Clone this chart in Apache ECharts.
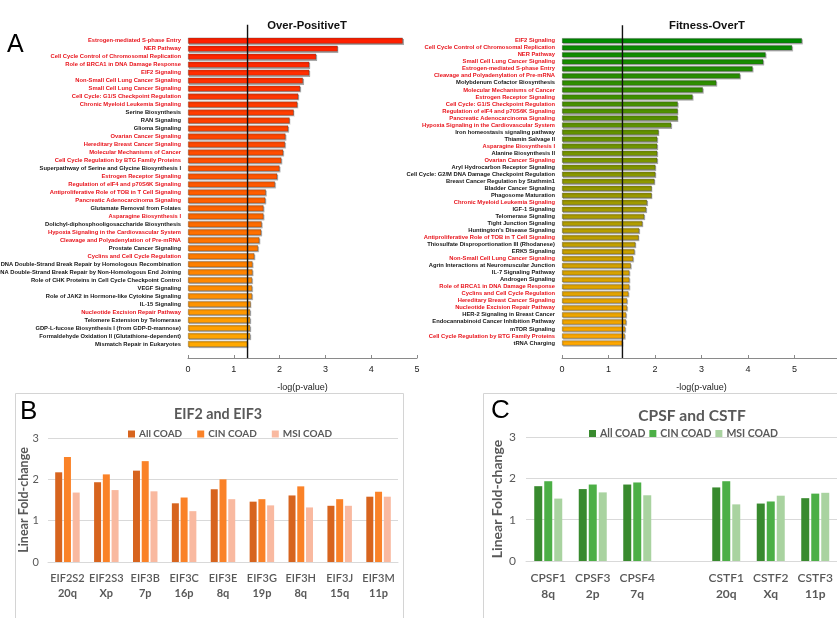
<!DOCTYPE html>
<html><head><meta charset="utf-8">
<script src="https://cdn.jsdelivr.net/npm/echarts@6/dist/echarts.min.js"></script>
<style>html,body{margin:0;padding:0;background:#fff}#c{width:837px;height:618px}</style>
</head><body><div id="c"></div>
<script>
// ---------- Panel A, left: Over-PositiveT ----------
const overPosLabels = [
  'Estrogen-mediated S-phase Entry','NER Pathway','Cell Cycle Control of Chromosomal Replication',
  'Role of BRCA1 in DNA Damage Response','EIF2 Signaling','Non-Small Cell Lung Cancer Signaling',
  'Small Cell Lung Cancer Signaling','Cell Cycle: G1/S Checkpoint Regulation','Chronic Myeloid Leukemia Signaling',
  'Serine Biosynthesis','RAN Signaling','Glioma Signaling','Ovarian Cancer Signaling',
  'Hereditary Breast Cancer Signaling','Molecular Mechanisms of Cancer','Cell Cycle Regulation by BTG Family Proteins',
  'Superpathway of Serine and Glycine Biosynthesis I','Estrogen Receptor Signaling','Regulation of eIF4 and p70S6K Signaling',
  'Antiproliferative Role of TOB in T Cell Signaling','Pancreatic Adenocarcinoma Signaling','Glutamate Removal from Folates',
  'Asparagine Biosynthesis I','Dolichyl-diphosphooligosaccharide Biosynthesis','Hypoxia Signaling in the Cardiovascular System',
  'Cleavage and Polyadenylation of Pre-mRNA','Prostate Cancer Signaling','Cyclins and Cell Cycle Regulation',
  'DNA Double-Strand Break Repair by Homologous Recombination','DNA Double-Strand Break Repair by Non-Homologous End Joining',
  'Role of CHK Proteins in Cell Cycle Checkpoint Control','VEGF Signaling','Role of JAK2 in Hormone-like Cytokine Signaling',
  'IL-15 Signaling','Nucleotide Excision Repair Pathway','Telomere Extension by Telomerase',
  'GDP-L-fucose Biosynthesis I (from GDP-D-mannose)','Formaldehyde Oxidation II (Glutathione-dependent)','Mismatch Repair in Eukaryotes'
];
const overPosValues = [4.69,3.27,2.80,2.65,2.65,2.51,2.45,2.41,2.39,2.31,2.22,2.19,2.13,2.12,2.08,2.04,2.00,1.95,1.90,
  1.70,1.69,1.65,1.65,1.61,1.60,1.56,1.53,1.45,1.41,1.41,1.40,1.40,1.40,1.37,1.36,1.36,1.36,1.36,1.30];
const overPosRed = [1,1,1,1,1,1,1,1,1,0,0,0,1,1,1,1,0,1,1,1,1,0,1,0,1,1,0,1,0,0,0,0,0,0,1,0,0,0,0];

// ---------- Panel A, right: Fitness-OverT ----------
const fitLabels = [
  'EIF2 Signaling','Cell Cycle Control of Chromosomal Replication','NER Pathway','Small Cell Lung Cancer Signaling',
  'Estrogen-mediated S-phase Entry','Cleavage and Polyadenylation of Pre-mRNA','Molybdenum Cofactor Biosynthesis',
  'Molecular Mechanisms of Cancer','Estrogen Receptor Signaling','Cell Cycle: G1/S Checkpoint Regulation',
  'Regulation of eIF4 and p70S6K Signaling','Pancreatic Adenocarcinoma Signaling','Hypoxia Signaling in the Cardiovascular System',
  'Iron homeostasis signaling pathway','Thiamin Salvage II','Asparagine Biosynthesis I','Alanine Biosynthesis II',
  'Ovarian Cancer Signaling','Aryl Hydrocarbon Receptor Signaling','Cell Cycle: G2/M DNA Damage Checkpoint Regulation',
  'Breast Cancer Regulation by Stathmin1','Bladder Cancer Signaling','Phagosome Maturation','Chronic Myeloid Leukemia Signaling',
  'IGF-1 Signaling','Telomerase Signaling','Tight Junction Signaling',"Huntington's Disease Signaling",
  'Antiproliferative Role of TOB in T Cell Signaling','Thiosulfate Disproportionation III (Rhodanese)','ERK5 Signaling',
  'Non-Small Cell Lung Cancer Signaling','Agrin Interactions at Neuromuscular Junction','IL-7 Signaling Pathway',
  'Androgen Signaling','Role of BRCA1 in DNA Damage Response','Cyclins and Cell Cycle Regulation',
  'Hereditary Breast Cancer Signaling','Nucleotide Excision Repair Pathway','HER-2 Signaling in Breast Cancer',
  'Endocannabinoid Cancer Inhibition Pathway','mTOR Signaling','Cell Cycle Regulation by BTG Family Proteins','tRNA Charging'
];
const fitValues = [5.16,4.95,4.38,4.33,4.10,3.83,3.32,3.03,2.81,2.49,2.49,2.49,2.35,2.08,2.05,2.05,2.05,2.05,2.01,2.01,1.99,
  1.93,1.93,1.83,1.81,1.77,1.73,1.66,1.65,1.58,1.56,1.53,1.48,1.45,1.45,1.45,1.43,1.40,1.40,1.38,1.38,1.36,1.35,1.30];
const fitRed = [1,1,1,1,1,1,0,1,1,1,1,1,1,0,0,1,0,1,0,0,0,0,0,1,0,0,0,0,1,0,0,1,0,0,0,1,1,1,1,0,0,0,1,0];

const threshold = 1.3;
const pTicks = [0,1,2,3,4,5];

// ---------- Panel B ----------
const eifGenes = ['EIF2S2','EIF2S3','EIF3B','EIF3C','EIF3E','EIF3G','EIF3H','EIF3J','EIF3M'];
const eifChrom = ['20q','Xp','7p','16p','8q','19p','8q','15q','11p'];
const eifAll = [2.17,1.93,2.21,1.42,1.76,1.46,1.61,1.36,1.58];
const eifCIN = [2.54,2.12,2.44,1.56,2.00,1.52,1.83,1.52,1.70];
const eifMSI = [1.68,1.74,1.71,1.23,1.52,1.37,1.32,1.36,1.58];

// ---------- Panel C ----------
const cpsfGenes = ['CPSF1','CPSF3','CPSF4','','CSTF1','CSTF2','CSTF3'];
const cpsfChrom = ['8q','2p','7q','','20q','Xq','11p'];
const cpsfAll = [1.81,1.74,1.85,null,1.78,1.39,1.52];
const cpsfCIN = [1.93,1.85,1.90,null,1.93,1.44,1.63];
const cpsfMSI = [1.51,1.66,1.59,null,1.37,1.58,1.65];

const seriesNames = ['All COAD','CIN COAD','MSI COAD'];
const fcTicks = [0,1,2,3];

// ---------- helpers ----------
function lerp(a,b,t){return a+(b-a)*t;}
function gradColor(stops, t){
  for(let i=0;i<stops.length-1;i++){
    const [p0,c0]=stops[i],[p1,c1]=stops[i+1];
    if(t<=p1){const u=(t-p0)/(p1-p0);
      return 'rgb('+c0.map((v,k)=>Math.round(lerp(v,c1[k],u))).join(',')+')';}
  }
  return 'rgb('+stops[stops.length-1][1].join(',')+')';
}
const redStops=[[0,[255,32,0]],[0.5,[255,92,0]],[1,[255,168,0]]];
const greenStops=[[0,[0,140,0]],[0.25,[85,145,0]],[0.5,[150,152,0]],[0.75,[212,162,0]],[1,[255,168,0]]];

const FONT='"Liberation Sans", Arial, sans-serif';
const CAL='Lato, "Open Sans", sans-serif';

function pathwayY(idx, labels, red){
  return {type:'category', gridIndex:idx, data:labels, inverse:true,
    axisLine:{show:false}, axisTick:{show:false},
    axisLabel:{interval:0, margin:7, fontFamily:FONT,
      formatter:(v,i)=>'{'+(red[i]?'r':'k')+'|'+v+'}',
      rich:{r:{color:'#E8141C',fontSize:5.8,fontWeight:'bold',fontFamily:FONT},
            k:{color:'#151515',fontSize:5.8,fontWeight:'bold',fontFamily:FONT}}}};
}
function pathwayX(idx, max, off){
  return {type:'value', gridIndex:idx, min:0, max:max, interval:1, offset:off,
    splitLine:{show:false},
    axisLine:{show:true, lineStyle:{color:'#8a8a8a'}},
    axisTick:{show:true, inside:true, length:3, lineStyle:{color:'#8a8a8a'}},
    axisLabel:{color:'#222', fontSize:9, fontFamily:FONT, margin:7,
      formatter:v=>pTicks.indexOf(v)>=0?String(v):''},
    name:'-log(p-value)', nameLocation:'middle', nameGap:25, nameMoveOverlap:false,
    nameTextStyle:{color:'#222', fontSize:9, fontFamily:FONT}};
}
function pathwayBars(idx, values, stops, bw){
  const n=values.length;
  return {type:'bar', xAxisIndex:idx, yAxisIndex:idx, data:values, barWidth:bw,
    itemStyle:{color:p=>gradColor(stops,p.dataIndex/(n-1)), borderColor:'rgba(50,50,50,0.55)', borderWidth:0.6,
      shadowColor:'rgba(0,0,0,0.28)', shadowOffsetX:1, shadowOffsetY:1.2, shadowBlur:0.5}};
}
function threshLine(idx, up, down){
  return {type:'custom', xAxisIndex:idx, yAxisIndex:idx, data:[[threshold,0]], z:10, silent:true,
    renderItem:(params,api)=>{
      const x=api.coord([api.value(0),0])[0]; const cs=params.coordSys;
      return {type:'line', shape:{x1:x,y1:cs.y-up,x2:x,y2:cs.y+cs.height+down},
        style:{stroke:'#111',lineWidth:1.4}};
    }};
}
function fcX(idx, genes, chrom, fs){
  return {type:'category', gridIndex:idx, data:genes,
    axisLine:{show:true, lineStyle:{color:'#D9D9D9'}}, axisTick:{show:false},
    axisLabel:{interval:0, margin:9, formatter:(v,i)=>genes[i]?'{a|'+v+'}\n{b|'+chrom[i]+'}':'',
      rich:{a:{color:'#595959',fontSize:fs,fontFamily:CAL,fontWeight:600,lineHeight:fs+4},
            b:{color:'#595959',fontSize:fs,fontFamily:CAL,fontWeight:'bold',lineHeight:fs+4}}}};
}
function fcY(idx, fs, nfs, gap, margin){
  return {type:'value', gridIndex:idx, min:0, max:3, interval:1,
    splitLine:{lineStyle:{color:'#D9D9D9'}}, axisLine:{show:false}, axisTick:{show:false},
    axisLabel:{color:'#595959', fontSize:fs, fontFamily:CAL, margin:margin,
      formatter:v=>fcTicks.indexOf(v)>=0?String(v):''},
    name:'Linear Fold-change', nameLocation:'middle', nameGap:gap, nameMoveOverlap:false,
    nameTextStyle:{color:'#595959', fontSize:nfs, fontFamily:CAL, fontWeight:'bold'}};
}
function fcBar(idx, name, data, color, bw){
  return {type:'bar', name:name, xAxisIndex:idx, yAxisIndex:idx, data:data, barWidth:bw, barGap:'25%',
    itemStyle:{color:color}};
}

const chart = echarts.init(document.getElementById('c'), null, {renderer:'canvas'});
chart.setOption({
  backgroundColor:'#fff', animation:false,
  title:[
    {text:'Over-PositiveT', left:302, top:15, textAlign:'center',
      textStyle:{fontSize:11.3, fontWeight:'bold', color:'#111', fontFamily:FONT}},
    {text:'Fitness-OverT', left:702, top:15, textAlign:'center',
      textStyle:{fontSize:11.3, fontWeight:'bold', color:'#111', fontFamily:FONT}},
    {text:'EIF2 and EIF3', left:213, top:402, textAlign:'center',
      textStyle:{fontSize:14.3, fontWeight:'bold', color:'#595959', fontFamily:CAL}},
    {text:'CPSF and CSTF', left:687, top:403, textAlign:'center',
      textStyle:{fontSize:15.6, fontWeight:'bold', color:'#595959', fontFamily:CAL}}
  ],
  graphic:[
    {type:'rect', shape:{x:15.5,y:393.5,width:388,height:240}, style:{fill:'none',stroke:'#D4D4D4',lineWidth:1}, z:-1},
    {type:'rect', shape:{x:483.5,y:393.5,width:370,height:240}, style:{fill:'none',stroke:'#D4D4D4',lineWidth:1}, z:-1},
    {type:'text', left:7, top:33, style:{text:'A', fontSize:25, fontFamily:FONT, fill:'#000'}},
    {type:'text', left:20, top:399, style:{text:'B', fontSize:26, fontFamily:FONT, fill:'#000'}},
    {type:'text', left:491, top:398, style:{text:'C', fontSize:26, fontFamily:FONT, fill:'#000'}}
  ],
  legend:[
    {data:seriesNames, left:123, top:424, itemWidth:7, itemHeight:7, itemGap:15, icon:'rect',
      textStyle:{color:'#595959', fontSize:10, fontFamily:CAL, fontWeight:'bold', padding:[0,0,0,-1]}},
    {data:seriesNames.map(s=>s+' '), left:584, top:423, itemWidth:7, itemHeight:7, itemGap:4, icon:'rect',
      formatter:n=>n.trim(),
      textStyle:{color:'#595959', fontSize:10.5, fontFamily:CAL, fontWeight:'bold', padding:[0,0,0,-1]}}
  ],
  grid:[
    {left:188, top:36.7, width:229, height:311.3, outerBoundsMode:'none', containLabel:false},
    {left:562, top:37.2, width:279, height:309.3, outerBoundsMode:'none', containLabel:false},
    {left:48, top:438, width:350, height:124, outerBoundsMode:'none', containLabel:false},
    {left:526, top:437, width:311.5, height:124, outerBoundsMode:'none', containLabel:false}
  ],
  xAxis:[pathwayX(0,5,10), pathwayX(1,6,11.5), fcX(2,eifGenes,eifChrom,11), fcX(3,cpsfGenes,cpsfChrom,12)],
  yAxis:[pathwayY(0,overPosLabels,overPosRed), pathwayY(1,fitLabels,fitRed), fcY(2,11,12.5,18,9), fcY(3,12,14,22,10)],
  series:[
    pathwayBars(0, overPosValues, redStops, 6),
    pathwayBars(1, fitValues, greenStops, 5.2),
    threshLine(0, 12, 10), threshLine(1, 12, 11.5),
    fcBar(2, seriesNames[0], eifAll, '#D7641E', 7),
    fcBar(2, seriesNames[1], eifCIN, '#FA8228', 7),
    fcBar(2, seriesNames[2], eifMSI, '#F9B9A0', 7),
    fcBar(3, seriesNames[0]+' ', cpsfAll, '#388A2E', 8),
    fcBar(3, seriesNames[1]+' ', cpsfCIN, '#4CAF46', 8),
    fcBar(3, seriesNames[2]+' ', cpsfMSI, '#A9D3A0', 8)
  ]
});
</script></body></html>
